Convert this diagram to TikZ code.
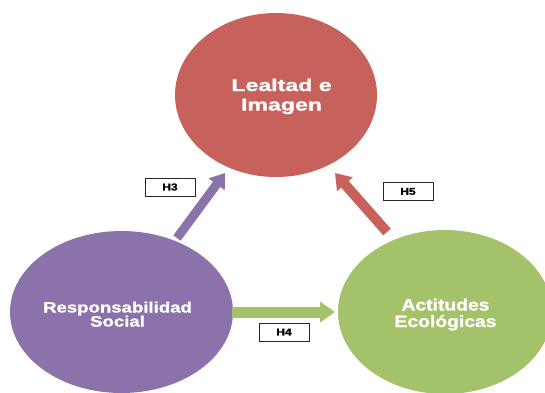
\documentclass[tikz,border=0pt]{standalone}
\usepackage{fontspec}
\usepackage{graphicx}
\setmainfont{Liberation Sans}
\newfontfamily\heavy[FakeBold=1.2]{Liberation Sans}
\usetikzlibrary{arrows.meta}
\definecolor{cred}{RGB}{198,97,91}
\definecolor{cpurple}{RGB}{139,114,171}
\definecolor{cgreen}{RGB}{163,194,106}
\newcommand\stk[3]{\scalebox{#1}[1]{\vtop{\baselineskip=#2\lineskiplimit=-\maxdimen\halign{\hfil##\hfil\cr #3\crcr}}}}
\tikzset{
  bubbletext/.style={text=white, inner sep=0pt, anchor=base},
  hbox/.style={draw=black!85, line width=0.8pt, fill=white, minimum width=50pt, minimum height=18pt, inner sep=0pt, font=\heavy\bfseries\fontsize{10}{10}\selectfont}
}
\begin{document}
\begin{tikzpicture}[x=1pt,y=-1pt]
\useasboundingbox (0,0) rectangle (545,392);
\clip (0,0) rectangle (545,392);
\fill[white] (0,0) rectangle (545,392);
% ellipses
\fill[cred] (276,95) ellipse [x radius=101, y radius=82];
\fill[cpurple] (121.5,312) ellipse [x radius=111.5, y radius=81];
\fill[cgreen] (445,312) ellipse [x radius=107, y radius=82];
\node[bubbletext, font=\heavy\bfseries\fontsize{17}{19}\selectfont] (li) at (281.5,91) {\stk{1.36}{19.5pt}{Lealtad e\cr Imagen}};
\node[bubbletext, font=\heavy\bfseries\fontsize{15}{14}\selectfont] (rs) at (117.5,312.5) {\stk{1.24}{14pt}{Responsabilidad\cr Social}};
\node[bubbletext, font=\heavy\bfseries\fontsize{16.5}{14}\selectfont] (ae) at (445.5,310.5) {\stk{1.17}{16.5pt}{Actitudes\cr Ecológicas}};
% arrows
\coordinate (p1) at (177,238);
\coordinate (p2) at (225,173);
\coordinate (g1) at (232,312);
\coordinate (g2) at (335,312);
\coordinate (r1) at (387,232);
\coordinate (r2) at (335,173);
\draw[cpurple, line width=9pt, -{Triangle[width=19pt, length=14pt]}] (p1) -- (p2);
\draw[cgreen, line width=11pt, -{Triangle[width=20pt, length=15pt]}] (g1) -- (g2);
\draw[cred, line width=10pt, -{Triangle[width=20pt, length=15pt]}] (r1) -- (r2);
% labels
\node[hbox] (h3) at (170,187) {\scalebox{1.2}[1]{H3}};
\node[hbox] (h4) at (284,332) {\scalebox{1.2}[1]{H4}};
\node[hbox] (h5) at (408,191.5) {\scalebox{1.2}[1]{H5}};
\end{tikzpicture}
\end{document}
